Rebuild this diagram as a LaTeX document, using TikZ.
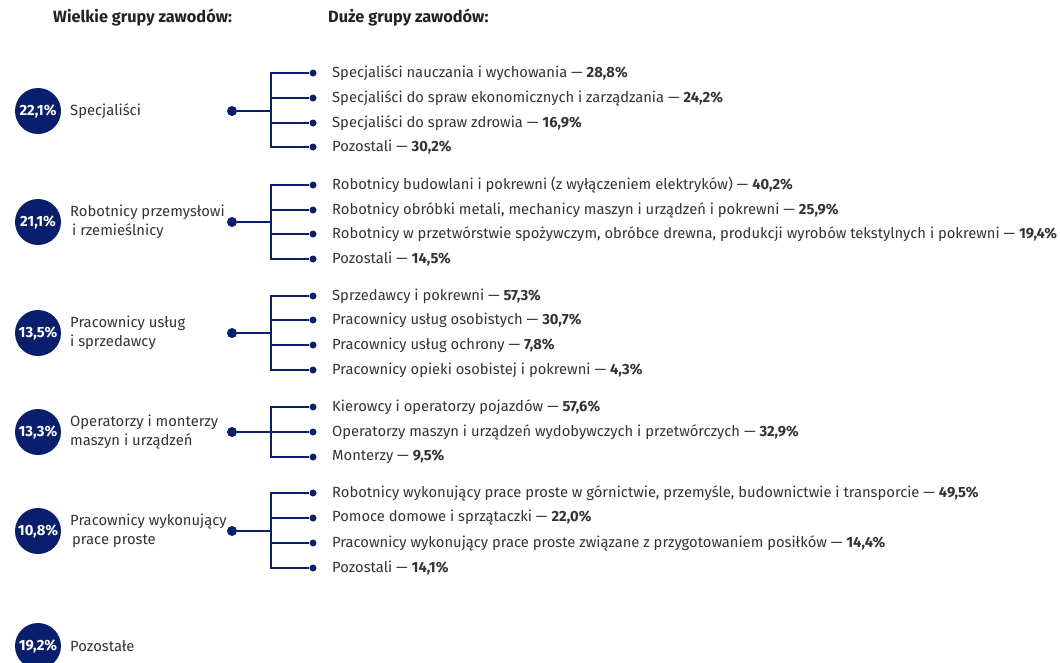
\documentclass[tikz,border=0pt]{standalone}
\usepackage{fontspec}
\setmainfont{Fira Sans}
\definecolor{navy}{RGB}{10,30,110}
\definecolor{txt}{RGB}{51,51,51}
\definecolor{headc}{RGB}{34,34,34}
\tikzset{
 pct/.style={circle,fill=navy,minimum size=46pt,inner sep=0pt,text=white,font=\fontsize{14.8}{15}\selectfont\bfseries},
 glabel/.style={anchor=west,inner sep=0pt,text=txt,font=\fontsize{14.8}{19.5}\selectfont,align=left},
 bigdot/.style={circle,fill=navy,minimum size=10pt,inner sep=0pt},
 smalldot/.style={circle,fill=navy,minimum size=7pt,inner sep=0pt},
 item/.style={anchor=west,inner sep=0pt,text=txt,font=\fontsize{14.75}{16}\selectfont},
 conn/.style={draw=navy,line width=1.5pt},
 head/.style={anchor=west,inner sep=0pt,text=headc,font=\fontsize{16.3}{18}\selectfont\bfseries}
}
\begin{document}
\begin{tikzpicture}[x=1pt,y=-1pt]
\useasboundingbox (0,0) rectangle (1060,662);
\node[head] (h1) at (53,18) {Wielkie grupy zawodów:};
\node[head] (h2) at (328,18) {Duże grupy zawodów:};
% group 1
\node[pct] (c1) at (38,111) {22,1\%};
\node[glabel] (l1) at (70,111) {Specjaliści};
\node[bigdot] (d1) at (232,111) {};
\coordinate (b1) at (271,111);
\node[smalldot] (i11) at (313,73) {};
\node[smalldot] (i12) at (313,98) {};
\node[smalldot] (i13) at (313,123) {};
\node[smalldot] (i14) at (313,147) {};
\draw[conn] (d1) -- (b1);
\draw[conn] (i11) -| (b1) |- (i14);
\draw[conn] (i12) -- (i12 -| b1);
\draw[conn] (i13) -- (i13 -| b1);
\node[item] (t11) at (332,73) {Specjaliści nauczania i wychowania — \textbf{28,8\%}};
\node[item] (t12) at (332,98) {Specjaliści do spraw ekonomicznych i zarządzania — \textbf{24,2\%}};
\node[item] (t13) at (332,123) {Specjaliści do spraw zdrowia — \textbf{16,9\%}};
\node[item] (t14) at (332,147) {Pozostali — \textbf{30,2\%}};
% group 2
\node[pct] (c2) at (38,222) {21,1\%};
\node[glabel] (l2) at (70,222) {Robotnicy przemysłowi\\\hspace*{2pt}i rzemieślnicy};
\node[bigdot] (d2) at (232,222) {};
\coordinate (b2) at (271,222);
\node[smalldot] (i21) at (313,185) {};
\node[smalldot] (i22) at (313,210) {};
\node[smalldot] (i23) at (313,234) {};
\node[smalldot] (i24) at (313,259) {};
\draw[conn] (d2) -- (b2);
\draw[conn] (i21) -| (b2) |- (i24);
\draw[conn] (i22) -- (i22 -| b2);
\draw[conn] (i23) -- (i23 -| b2);
\node[item] (t21) at (332,185) {Robotnicy budowlani i pokrewni (z wyłączeniem elektryków) — \textbf{40,2\%}};
\node[item] (t22) at (332,210) {Robotnicy obróbki metali, mechanicy maszyn i urządzeń i pokrewni — \textbf{25,9\%}};
\node[item] (t23) at (332,234) {Robotnicy w przetwórstwie spożywczym, obróbce drewna, produkcji wyrobów tekstylnych i pokrewni — \textbf{19,4\%}};
\node[item] (t24) at (332,259) {Pozostali — \textbf{14,5\%}};
% group 3
\node[pct] (c3) at (38,333) {13,5\%};
\node[glabel] (l3) at (70,333) {Pracownicy usług\\i sprzedawcy};
\node[bigdot] (d3) at (232,333) {};
\coordinate (b3) at (271,333);
\node[smalldot] (i31) at (313,296) {};
\node[smalldot] (i32) at (313,320) {};
\node[smalldot] (i33) at (313,345) {};
\node[smalldot] (i34) at (313,370) {};
\draw[conn] (d3) -- (b3);
\draw[conn] (i31) -| (b3) |- (i34);
\draw[conn] (i32) -- (i32 -| b3);
\draw[conn] (i33) -- (i33 -| b3);
\node[item] (t31) at (332,296) {Sprzedawcy i pokrewni — \textbf{57,3\%}};
\node[item] (t32) at (332,320) {Pracownicy usług osobistych — \textbf{30,7\%}};
\node[item] (t33) at (332,345) {Pracownicy usług ochrony — \textbf{7,8\%}};
\node[item] (t34) at (332,370) {Pracownicy opieki osobistej i pokrewni — \textbf{4,3\%}};
% group 4
\node[pct] (c4) at (38,432) {13,3\%};
\node[glabel] (l4) at (70,432) {Operatorzy i monterzy\\maszyn i urządzeń};
\node[bigdot] (d4) at (232,432) {};
\coordinate (b4) at (271,432);
\node[smalldot] (i41) at (313,407) {};
\node[smalldot] (i42) at (313,432) {};
\node[smalldot] (i43) at (313,457) {};
\draw[conn] (d4) -- (i42);
\draw[conn] (i41) -| (b4) |- (i43);
\node[item] (t41) at (332,407) {Kierowcy i operatorzy pojazdów — \textbf{57,6\%}};
\node[item] (t42) at (332,432) {Operatorzy maszyn i urządzeń wydobywczych i przetwórczych — \textbf{32,9\%}};
\node[item] (t43) at (332,457) {Monterzy — \textbf{9,5\%}};
% group 5
\node[pct] (c5) at (38,531) {10,8\%};
\node[glabel] (l5) at (70,531) {Pracownicy wykonujący\\\hspace*{2pt}prace proste};
\node[bigdot] (d5) at (232,531) {};
\coordinate (b5) at (271,531);
\node[smalldot] (i51) at (313,493) {};
\node[smalldot] (i52) at (313,518) {};
\node[smalldot] (i53) at (313,543) {};
\node[smalldot] (i54) at (313,568) {};
\draw[conn] (d5) -- (b5);
\draw[conn] (i51) -| (b5) |- (i54);
\draw[conn] (i52) -- (i52 -| b5);
\draw[conn] (i53) -- (i53 -| b5);
\node[item] (t51) at (332,493) {Robotnicy wykonujący prace proste w górnictwie, przemyśle, budownictwie i transporcie — \textbf{49,5\%}};
\node[item] (t52) at (332,518) {Pomoce domowe i sprzątaczki — \textbf{22,0\%}};
\node[item] (t53) at (332,543) {Pracownicy wykonujący prace proste związane z przygotowaniem posiłków — \textbf{14,4\%}};
\node[item] (t54) at (332,568) {Pozostali — \textbf{14,1\%}};
% group 6
\node[pct] (c6) at (38,646) {19,2\%};
\node[glabel] (l6) at (70,646) {Pozostałe};
\end{tikzpicture}
\end{document}
